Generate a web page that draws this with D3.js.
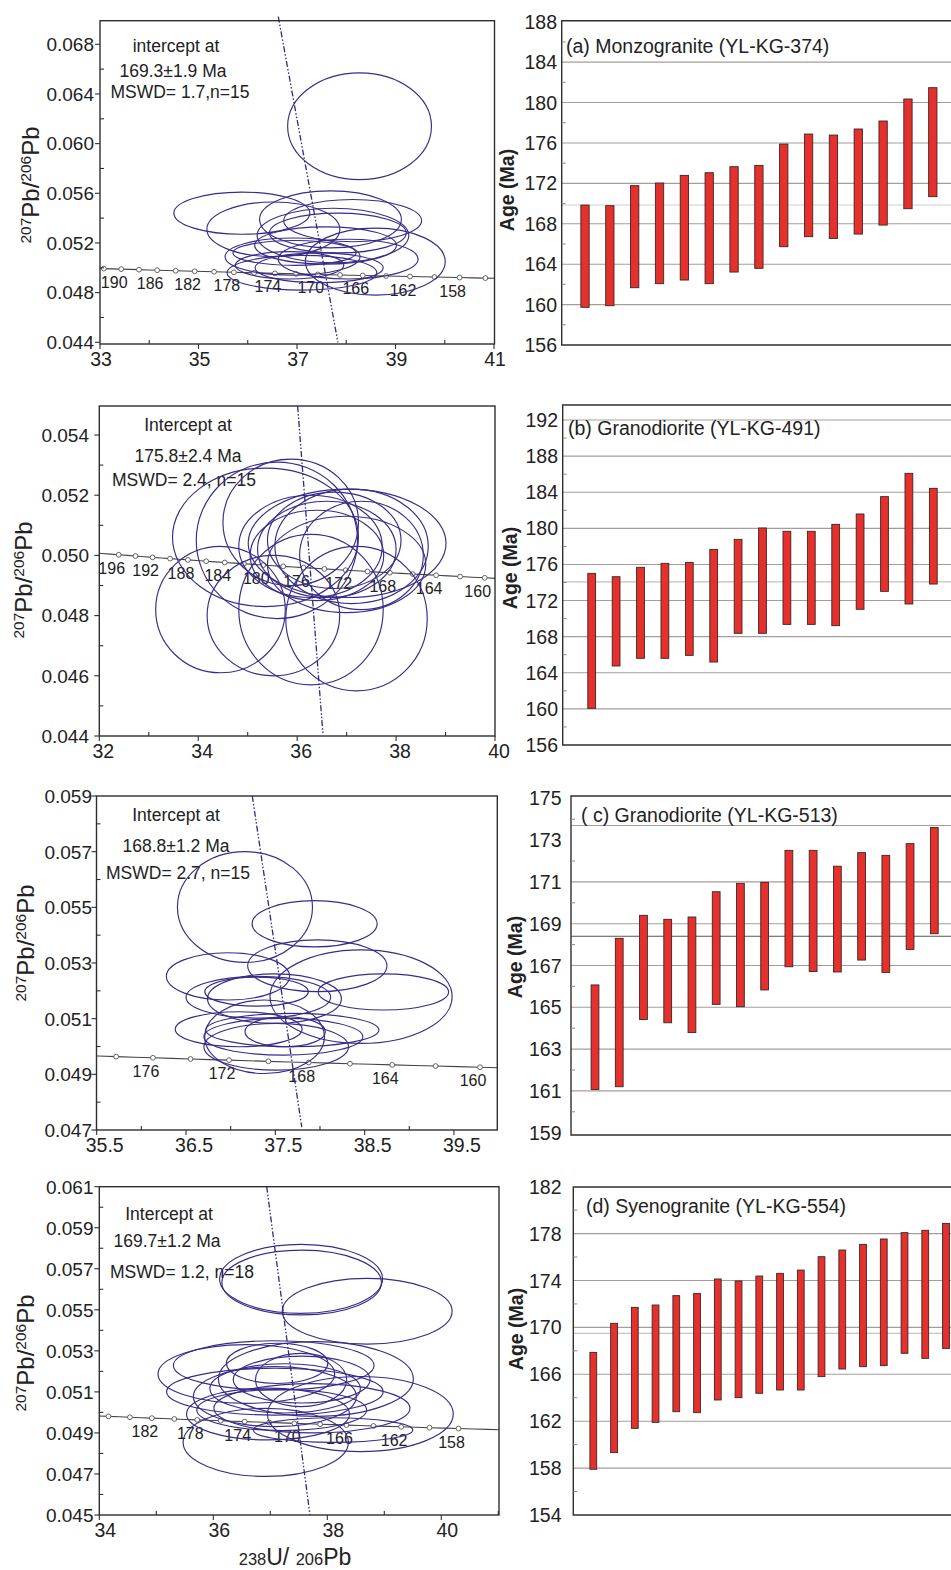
<!DOCTYPE html>
<html>
<head>
<meta charset="utf-8">
<script src="https://cdn.jsdelivr.net/npm/d3@7"></script>
<style>
  body { margin: 0; background: #fff; }
  svg { display: block; }
  text { font-family: "Liberation Sans", Arial, sans-serif; fill: #222; }
</style>
</head>
<body>
<script>
// ---------- data: concordia diagrams (238U/206Pb, 207Pb/206Pb, half-widths) ----------
const ellipsesA = [
  [38.27, 0.0614, 1.46, 0.0043], [35.88, 0.0544, 1.38, 0.0017], [36.52, 0.0531, 1.35, 0.0022],
  [37.68, 0.0539, 1.44, 0.0023], [38.13, 0.0538, 1.40, 0.0017], [37.73, 0.0526, 1.54, 0.0022],
  [37.83, 0.0528, 1.39, 0.0016], [37.58, 0.0518, 1.44, 0.0015], [36.91, 0.0509, 1.37, 0.0015],
  [36.95, 0.0512, 1.25, 0.0010], [38.59, 0.0505, 1.42, 0.0027], [38.04, 0.0507, 1.42, 0.0016],
  [37.10, 0.0496, 1.52, 0.0014], [37.45, 0.0500, 1.30, 0.0012], [36.85, 0.0502, 1.10, 0.0011]
];
const ellipsesB = [
  [34.45, 0.0482, 1.31, 0.0021], [35.52, 0.0480, 1.34, 0.0020], [36.28, 0.0482, 1.46, 0.0025],
  [37.20, 0.0479, 1.43, 0.0024], [35.36, 0.0506, 1.88, 0.0023], [35.59, 0.0505, 1.63, 0.0026],
  [35.87, 0.0511, 1.37, 0.0021], [36.27, 0.0503, 1.45, 0.0017], [37.01, 0.0504, 2.00, 0.0018],
  [37.10, 0.0503, 1.55, 0.0019], [36.60, 0.0502, 1.40, 0.0016], [36.75, 0.0505, 1.35, 0.0016],
  [37.30, 0.0500, 1.25, 0.0018], [36.40, 0.0500, 1.35, 0.0015], [37.00, 0.0497, 1.60, 0.0016]
];
const ellipsesC = [
  [37.16, 0.05501, 0.756, 0.00199], [37.94, 0.05441, 0.70, 0.00083], [37.97, 0.05290, 0.78, 0.00093],
  [36.97, 0.05252, 0.69, 0.00085], [38.46, 0.05179, 1.02, 0.00168], [38.71, 0.05196, 0.73, 0.00065],
  [37.31, 0.05177, 0.81, 0.00075], [37.29, 0.05197, 0.58, 0.00052], [37.49, 0.05172, 0.75, 0.00089],
  [37.09, 0.05062, 0.71, 0.00063], [37.38, 0.05035, 0.67, 0.00132], [37.69, 0.05059, 0.97, 0.00060],
  [37.51, 0.04999, 0.81, 0.00084], [37.61, 0.05053, 0.45, 0.00054], [37.59, 0.05035, 0.89, 0.00066]
];
const ellipsesD = [
  [37.54, 0.05651, 1.43, 0.00168], [37.55, 0.05633, 1.40, 0.00158], [38.70, 0.05493, 1.49, 0.00160],
  [37.06, 0.05229, 1.76, 0.00120], [36.58, 0.05187, 1.55, 0.00143], [37.80, 0.05163, 1.71, 0.00182],
  [37.12, 0.05239, 0.89, 0.00098], [37.08, 0.05101, 1.90, 0.00114], [37.54, 0.05158, 0.80, 0.00130],
  [37.26, 0.05117, 1.32, 0.00120], [36.96, 0.04992, 1.43, 0.00126], [38.58, 0.04992, 1.63, 0.00183],
  [36.92, 0.04854, 1.45, 0.00166], [37.20, 0.05012, 1.49, 0.00100], [37.73, 0.05020, 1.72, 0.00120],
  [37.08, 0.05077, 1.43, 0.00146], [37.55, 0.05160, 1.20, 0.00114], [38.10, 0.04914, 1.40, 0.00060]
];

// discordia (regression) line end points
const discordiaA = [[36.62, 0.07022], [37.83, 0.0440]];
const discordiaB = [[36.01, 0.05496], [36.52, 0.04409]];
const discordiaC = [[37.242, 0.0590], [37.796, 0.0471]];
const discordiaD = [[36.937, 0.0610], [37.696, 0.0450]];

// concordia age marks (Ma) and the labelled ones
const markAgesA = d3.range(156, 193, 2), labelAgesA = [190, 186, 182, 178, 174, 170, 166, 162, 158];
const markAgesB = d3.range(160, 197, 2), labelAgesB = [196, 192, 188, 184, 180, 176, 172, 168, 164, 160];
const markAgesC = d3.range(160, 179, 2), labelAgesC = [176, 172, 168, 164, 160];
const markAgesD = d3.range(158, 187, 2), labelAgesD = [182, 178, 174, 170, 166, 162, 158];

const interceptA = ['intercept at', '169.3\u00b11.9 Ma', 'MSWD= 1.7,n=15'];
const interceptB = ['Intercept at', '175.8\u00b12.4 Ma', 'MSWD= 2.4, n=15'];
const interceptC = ['Intercept at', '168.8\u00b11.2 Ma', 'MSWD= 2.7, n=15'];
const interceptD = ['Intercept at', '169.7\u00b11.2 Ma', 'MSWD= 1.2, n=18'];

// ---------- data: single-grain ages (Ma), error bar low / high ----------
const ageLoA = [159.73, 159.89, 161.67, 162.07, 162.43, 162.07, 163.22, 163.59, 165.73, 166.72, 166.55, 166.98, 167.87, 169.49, 170.68];
const ageHiA = [169.85, 169.79, 171.77, 172.03, 172.79, 173.05, 173.65, 173.78, 175.89, 176.88, 176.78, 177.38, 178.17, 180.35, 181.47];
const ageLoB = [160.06, 164.75, 165.60, 165.60, 165.93, 165.19, 168.37, 168.37, 169.36, 169.36, 169.22, 171.03, 173.02, 171.62, 173.83];
const ageHiB = [175.01, 174.64, 175.68, 176.12, 176.23, 177.67, 178.78, 180.04, 179.67, 179.67, 180.44, 181.59, 183.51, 186.09, 184.43];
const ageLoC = [161.07, 161.20, 164.42, 164.26, 163.79, 165.14, 165.03, 165.83, 166.94, 166.71, 166.69, 167.26, 166.67, 167.77, 168.52];
const ageHiC = [166.07, 168.30, 169.40, 169.21, 169.32, 170.53, 170.93, 170.98, 172.51, 172.51, 171.75, 172.40, 172.27, 172.83, 173.60];
const ageLoD = [157.90, 159.32, 161.39, 161.90, 162.81, 162.73, 163.81, 164.01, 164.38, 164.66, 164.66, 165.80, 166.45, 166.65, 166.74, 167.79, 167.36, 168.21];
const ageHiD = [167.87, 170.35, 171.71, 171.91, 172.71, 172.90, 174.13, 173.96, 174.38, 174.61, 174.89, 176.03, 176.60, 177.08, 177.54, 178.08, 178.28, 178.87];

const titles = ['(a) Monzogranite (YL-KG-374)', '(b) Granodiorite (YL-KG-491)', '( c) Granodiorite (YL-KG-513)', '(d) Syenogranite (YL-KG-554)'];
const meanAges = [169.85, 174.07, 168.4, 169.5];

// ---------- concordia curve (U decay constants, per Ma) ----------
const l238 = 1.55125e-4, l235 = 9.8485e-4, u85 = 137.88;
const concordia = t => {
  const e8 = Math.expm1(l238 * t), e5 = Math.expm1(l235 * t);
  return [1 / e8, e5 / e8 / u85];
};

const svg = d3.select('body').append('svg')
  .attr('width', 951).attr('height', 1570)
  .attr('xmlns', 'http://www.w3.org/2000/svg');
svg.append('rect').attr('width', 951).attr('height', 1570).attr('fill', '#fff');

const ink = '#2f2f2f', ellColor = '#382c8a';

function concordiaPanel(p) {
  const x = d3.scaleLinear().domain(p.xd).range(p.xr);
  const y = d3.scaleLinear().domain(p.yd).range(p.yr);
  const b = p.box;
  const g = svg.append('g');

  svg.append('clipPath').attr('id', 'clip' + p.id)
    .append('rect').attr('x', b.l).attr('y', b.t).attr('width', b.r - b.l).attr('height', b.b - b.t);

  // intercept text
  p.text.forEach((s, i) => {
    g.append('text').attr('x', p.textPos[i][0]).attr('y', p.textPos[i][1])
      .attr('text-anchor', 'middle').attr('font-size', 17.5).text(s);
  });

  // concordia
  const cg = g.append('g').attr('clip-path', `url(#clip${p.id})`);
  cg.append('path')
    .datum(d3.range(150, 201, 1).map(concordia))
    .attr('d', d3.line().x(d => x(d[0])).y(d => y(d[1])))
    .attr('fill', 'none').attr('stroke', '#444').attr('stroke-width', 1.1);

  g.selectAll('.lab').data(p.labels).join('text')
    .attr('x', t => x(concordia(t)[0]) - 7)
    .attr('y', t => y(concordia(t)[1]) + 19)
    .attr('text-anchor', 'middle').attr('font-size', 16)
    .text(t => t);

  // ellipses
  g.append('g').selectAll('ellipse').data(p.ell).join('ellipse')
    .attr('cx', d => x(d[0])).attr('cy', d => y(d[1]))
    .attr('rx', d => x(d[0] + d[2]) - x(d[0]))
    .attr('ry', d => y(d[1] - d[3]) - y(d[1]))
    .attr('fill', 'none').attr('stroke', ellColor).attr('stroke-width', 1.15);

  cg.selectAll('circle').data(p.marks).join('circle')
    .attr('cx', t => x(concordia(t)[0])).attr('cy', t => y(concordia(t)[1]))
    .attr('r', 2.4).attr('fill', '#fff').attr('stroke', '#555').attr('stroke-width', 0.9);

  // discordia
  g.append('path').datum(p.disc)
    .attr('d', d3.line().x(d => x(d[0])).y(d => y(d[1])))
    .attr('stroke', '#2b2a86').attr('stroke-width', 1.3)
    .attr('stroke-dasharray', '6,2,1.5,2,1.5,2').attr('fill', 'none');

  // frame
  g.append('rect').attr('x', b.l).attr('y', b.t).attr('width', b.r - b.l).attr('height', b.b - b.t)
    .attr('fill', 'none').attr('stroke', ink).attr('stroke-width', 1.4);

  // ticks
  const tk = g.append('g').attr('stroke', ink).attr('stroke-width', 1.1);
  p.xMajor.forEach(v => tk.append('line').attr('x1', x(v)).attr('x2', x(v)).attr('y1', b.b).attr('y2', b.b + 5));
  p.xMinor.forEach(v => tk.append('line').attr('x1', x(v)).attr('x2', x(v)).attr('y1', b.b).attr('y2', b.b - 4));
  p.yMajor.forEach(v => tk.append('line').attr('x1', b.l - 5).attr('x2', b.l).attr('y1', y(v)).attr('y2', y(v)));
  p.yMinor.forEach(v => tk.append('line').attr('x1', b.l).attr('x2', b.l + 4).attr('y1', y(v)).attr('y2', y(v)));

  g.selectAll('.xt').data(p.xMajor).join('text')
    .attr('x', v => x(v) + p.xdx).attr('y', b.b + 22)
    .attr('text-anchor', 'middle').attr('font-size', 19.5)
    .text(d3.format(p.xfmt));
  g.selectAll('.yt').data(p.yMajor).join('text')
    .attr('x', p.ylx).attr('y', v => y(v)).attr('dy', '0.36em')
    .attr('text-anchor', 'end').attr('font-size', 19)
    .text(d3.format('.3f'));

  // y title 207Pb/206Pb
  const yt = g.append('text')
    .attr('transform', `translate(${p.yTitle[0]},${p.yTitle[1]}) rotate(-90)`)
    .attr('text-anchor', 'middle');
  yt.append('tspan').attr('font-size', 15.5).attr('dy', -8).text('207');
  yt.append('tspan').attr('font-size', 24).attr('dy', 8).text('Pb/');
  yt.append('tspan').attr('font-size', 15.5).attr('dy', -8).text('206');
  yt.append('tspan').attr('font-size', 24).attr('dy', 8).text('Pb');
}

function agePanel(p, lo, hi, title, mean) {
  const y = d3.scaleLinear().domain(p.yd).range(p.yr);
  const x = d3.scalePoint().domain(d3.range(lo.length)).range(p.xr);
  const b = p.box;
  const g = svg.append('g');

  g.selectAll('.grid').data(p.grid).join('line')
    .attr('x1', b.l).attr('x2', b.r).attr('y1', y).attr('y2', y)
    .attr('stroke', '#a39e99').attr('stroke-width', 1.1);
  g.append('line').attr('x1', b.l).attr('x2', b.r).attr('y1', y(mean)).attr('y2', y(mean))
    .attr('stroke', p.meanColor).attr('stroke-width', 1.1);

  g.append('path')
    .attr('d', `M${b.r},${b.t}H${b.l}V${b.b}H${b.r}`)
    .attr('fill', 'none').attr('stroke', ink).attr('stroke-width', 1.4);

  const tk = g.append('g').attr('stroke', '#888').attr('stroke-width', 1);
  p.minor.forEach(v => tk.append('line').attr('x1', b.l).attr('x2', b.l + 4).attr('y1', y(v)).attr('y2', y(v)));

  g.selectAll('rect.bar').data(lo).join('rect').attr('class', 'bar')
    .attr('x', (d, i) => x(i) - p.bw / 2).attr('width', p.bw)
    .attr('y', (d, i) => y(hi[i])).attr('height', (d, i) => y(d) - y(hi[i]))
    .attr('fill', '#e5302b').attr('stroke', '#3a2626').attr('stroke-width', 0.9);

  g.selectAll('.yt').data(p.major).join('text')
    .attr('x', p.ylx).attr('y', v => y(v)).attr('dy', '0.36em')
    .attr('text-anchor', 'end').attr('font-size', 19.5)
    .text(v => v);

  g.append('text').attr('x', p.titlePos[0]).attr('y', p.titlePos[1])
    .attr('font-size', 19.5).text(title);

  g.append('text')
    .attr('transform', `translate(${p.yTitle[0]},${p.yTitle[1]}) rotate(-90)`)
    .attr('text-anchor', 'middle').attr('font-size', 19.5).attr('font-weight', 'bold')
    .text('Age (Ma)');
}

// ---------- layout ----------
concordiaPanel({
  id: 'A', xd: [33, 41], xr: [100, 494], yd: [0.044, 0.068], yr: [342.3, 44.3],
  box: { l: 100, t: 20.7, r: 494.5, b: 344 },
  xMajor: [33, 35, 37, 39, 41], xMinor: [34, 36, 38, 40],
  yMajor: d3.range(0.044, 0.0681, 0.004), yMinor: d3.range(0.046, 0.067, 0.004),
  xfmt: 'd', xdx: 1, ylx: 94,
  ell: ellipsesA, disc: discordiaA, marks: markAgesA, labels: labelAgesA,
  text: interceptA, textPos: [[176, 51.5], [173, 77], [180, 98]], yTitle: [39, 185]
});
concordiaPanel({
  id: 'B', xd: [32, 40], xr: [99.3, 495], yd: [0.044, 0.054], yr: [736, 435],
  box: { l: 99.3, t: 406, r: 495, b: 736 },
  xMajor: [32, 34, 36, 38, 40], xMinor: [33, 35, 37, 39],
  yMajor: d3.range(0.044, 0.0541, 0.002), yMinor: d3.range(0.045, 0.0535, 0.002),
  xfmt: 'd', xdx: 4, ylx: 89,
  ell: ellipsesB, disc: discordiaB, marks: markAgesB, labels: labelAgesB,
  text: interceptB, textPos: [[188, 430.5], [188, 461.5], [184, 486]], yTitle: [32, 580]
});
concordiaPanel({
  id: 'C', xd: [35.5, 40], xr: [96.7, 498.6], yd: [0.047, 0.059], yr: [1130, 796],
  box: { l: 96.5, t: 796, r: 497.3, b: 1130 },
  xMajor: [35.5, 36.5, 37.5, 38.5, 39.5], xMinor: [36, 37, 38, 39],
  yMajor: d3.range(0.047, 0.0591, 0.002), yMinor: d3.range(0.048, 0.0585, 0.002),
  xfmt: '.1f', xdx: 8, ylx: 92,
  ell: ellipsesC, disc: discordiaC, marks: markAgesC, labels: labelAgesC,
  text: interceptC, textPos: [[176, 820.5], [176, 851.5], [178, 879]], yTitle: [33.5, 943]
});
concordiaPanel({
  id: 'D', xd: [34, 41], xr: [99.3, 498.3], yd: [0.045, 0.061], yr: [1515, 1186.7],
  box: { l: 99.3, t: 1186.7, r: 499, b: 1515 },
  xMajor: [34, 36, 38, 40], xMinor: [35, 37, 39, 41],
  yMajor: d3.range(0.045, 0.0611, 0.002), yMinor: d3.range(0.046, 0.0605, 0.002),
  xfmt: 'd', xdx: 6, ylx: 93.5,
  ell: ellipsesD, disc: discordiaD, marks: markAgesD, labels: labelAgesD,
  text: interceptD, textPos: [[169, 1220], [167, 1247], [182, 1277.5]], yTitle: [33.5, 1353]
});

// x title below the bottom concordia panel
const xt = svg.append('text').attr('x', 295).attr('y', 1565).attr('text-anchor', 'middle');
xt.append('tspan').attr('font-size', 16.5).text('238');
xt.append('tspan').attr('font-size', 23).text('U/ ');
xt.append('tspan').attr('font-size', 16.5).text('206');
xt.append('tspan').attr('font-size', 23).text('Pb');

agePanel({
  yd: [156, 188], yr: [345, 21.7], xr: [585, 932.8], bw: 8.3,
  box: { l: 561.7, t: 20.7, r: 960, b: 345 },
  grid: d3.range(160, 185, 4), major: d3.range(156, 189, 4), minor: d3.range(158, 187, 4),
  meanColor: '#d2d0ce', ylx: 557, titlePos: [566, 53], yTitle: [514, 190]
}, ageLoA, ageHiA, titles[0], meanAges[0]);
agePanel({
  yd: [156, 192], yr: [745, 420], xr: [591.7, 933.3], bw: 7.8,
  box: { l: 562.7, t: 405, r: 960, b: 745 },
  grid: d3.range(160, 193, 4), major: d3.range(156, 193, 4), minor: d3.range(158, 191, 4),
  meanColor: '#c4c0bc', ylx: 558, titlePos: [568, 435], yTitle: [517, 568]
}, ageLoB, ageHiB, titles[1], meanAges[1]);
agePanel({
  yd: [159, 175], yr: [1132.7, 798.3], xr: [595, 934.3], bw: 7.8,
  box: { l: 571, t: 796, r: 960, b: 1135 },
  grid: [161, 163, 165, 167, 169, 171, 173.7], major: d3.range(159, 176, 2), minor: d3.range(160, 175, 2),
  meanColor: '#555', ylx: 561.5, titlePos: [581, 821.5], yTitle: [521.5, 957]
}, ageLoC, ageHiC, titles[2], meanAges[2]);
agePanel({
  yd: [154, 182], yr: [1515, 1186.7], xr: [593.3, 946], bw: 6.8,
  box: { l: 573.3, t: 1187, r: 960, b: 1515 },
  grid: d3.range(158, 179, 4), major: d3.range(154, 183, 4), minor: d3.range(156, 181, 4),
  meanColor: '#b8b4b0', ylx: 561.5, titlePos: [586, 1213], yTitle: [523, 1329]
}, ageLoD, ageHiD, titles[3], meanAges[3]);
</script>
</body>
</html>
